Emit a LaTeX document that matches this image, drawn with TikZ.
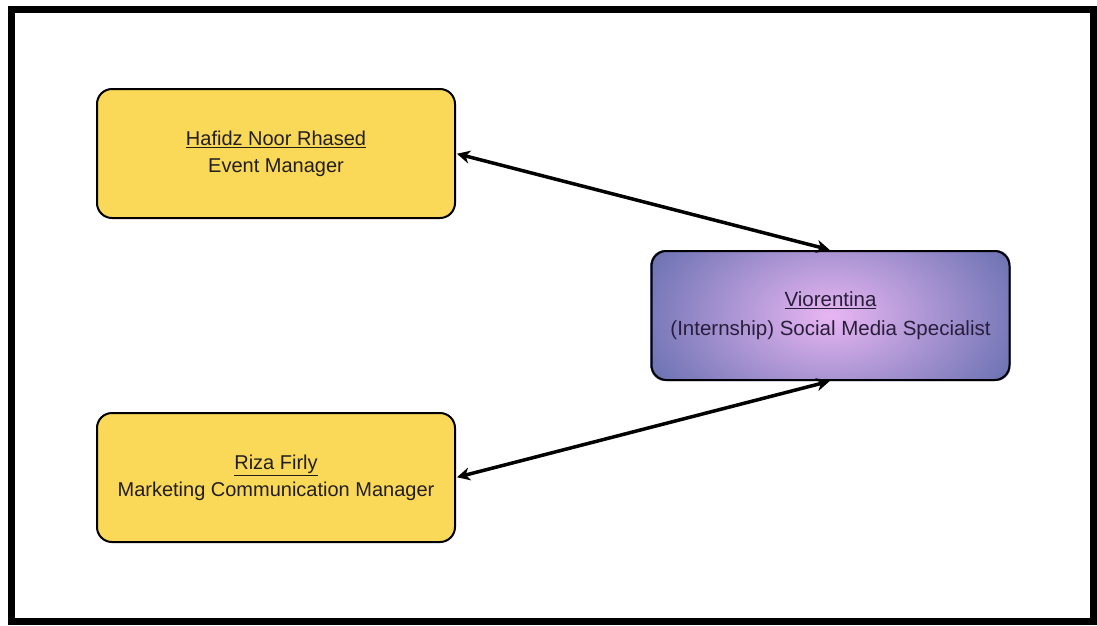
\documentclass[tikz,border=0pt]{standalone}
\usepackage{fontspec}
\setmainfont{Liberation Sans}
\usetikzlibrary{arrows.meta,backgrounds}
\definecolor{boxyellow}{RGB}{250,216,88}
\definecolor{txt}{RGB}{34,30,30}
\definecolor{purpin}{RGB}{232,182,242}
\definecolor{purpout}{RGB}{100,110,175}
\tikzset{
  person/.style={draw=black, line width=2pt, rounded corners=15pt,
    minimum width=358pt, minimum height=129pt, align=center, text=txt,
    font=\fontsize{20}{27}\selectfont, inner sep=0pt},
  yellowbox/.style={person, fill=boxyellow},
  purplebox/.style={person, font=\fontsize{20.5}{29}\selectfont,
    text={rgb,255:red,40;green,30;blue,60}},
  link/.style={line width=3.5pt, {Stealth[length=13pt,width=13pt,inset=4pt]}-{Stealth[length=13pt,width=13pt,inset=4pt]}, shorten <=1pt, shorten >=1pt}
}
\begin{document}
\begin{tikzpicture}[x=1pt,y=-1pt]
\useasboundingbox (0,0) rectangle (1097,625);
\draw[line width=7pt] (11,9) rectangle (1093,621);
\node[yellowbox] (h) at (276,153.5) {\underline{Hafidz Noor Rhased}\\Event Manager};
\node[yellowbox] (r) at (276,477.5) {\underline{Riza Firly}\\Marketing Communication Manager};
\node[purplebox] (v) at (830.5,315.5) {\underline{Viorentina}\\(Internship) Social Media Specialist};
\begin{scope}[on background layer]
  \fill[white] (0,0) rectangle (1097,625);
  \clip[rounded corners=15pt] (v.south west) rectangle (v.north east);
  \fill[purpout] (v.south west) rectangle (v.north east);
  \shade[inner color=purpin, outer color=purpout] (v.center) ellipse [x radius=215, y radius=135];
\end{scope}
\draw[link] (h.east) -- (v.north);
\draw[link] (r.east) -- (v.south);
\end{tikzpicture}
\end{document}
